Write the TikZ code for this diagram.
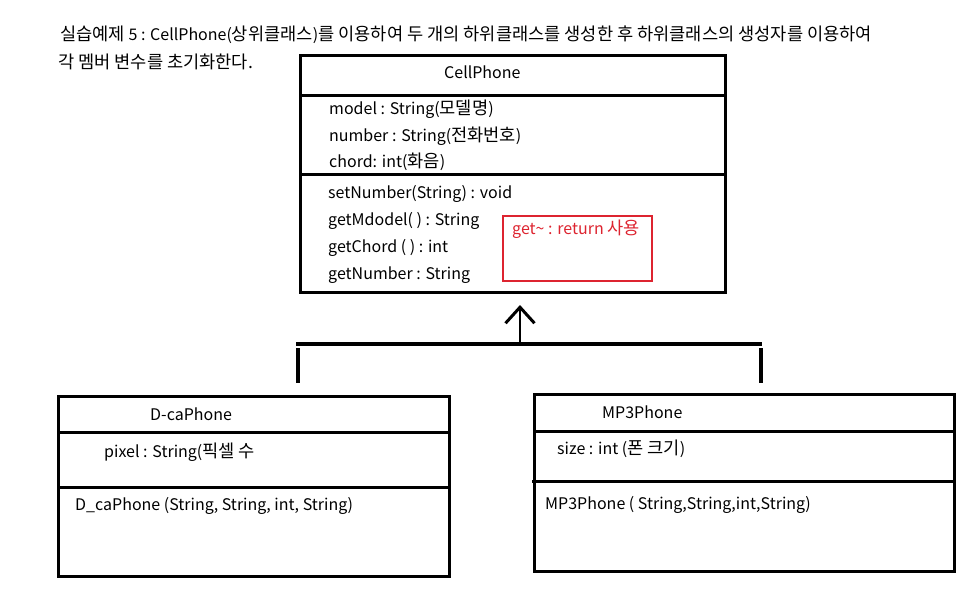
\documentclass[tikz,border=0pt]{standalone}
\usepackage{fontspec}
\setmainfont{Noto Sans CJK KR}
\newfontfamily\krf{Noto Sans CJK KR}[Scale=1.1]
\newcommand\hg[1]{{\krf #1}}
\usetikzlibrary{arrows.meta}
\definecolor{memo}{RGB}{221,36,48}
\tikzset{
  umlbox/.style={draw=black, line width=3pt, rectangle, inner sep=0pt},
  divider/.style={line width=3pt},
  txt/.style={anchor=west, inner sep=0pt, font=\fontsize{16}{18}\selectfont},
  memobox/.style={draw=memo, line width=2.5pt, rectangle, inner sep=0pt},
  bar/.style={line width=3.5pt},
}
\begin{document}
\begin{tikzpicture}[x=1pt,y=-1pt]
\useasboundingbox (0,0) rectangle (976,597);
% title
\node[txt] (t1) at (60,35) {\hg{실습예제} 5 : CellPhone(\hg{상위클래스})\hg{를 이용하여 두 개의 하위클래스를 생성한 후 하위클래스의 생성자를 이용하여}};
\node[txt] (t2) at (58,62) {\hg{각 멤버 변수를 초기화한다.}};
% CellPhone
\node[umlbox, minimum width=425pt, minimum height=237pt] (cell) at (512.5,173.5) {};
\draw[divider] (300,95) -- (725,95);
\draw[divider] (300,174) -- (725,174);
\node[txt] (cn) at (444,72) {CellPhone};
\node[txt] (a1) at (329,109) {model : String(\hg{모델명})};
\node[txt] (a2) at (329,136) {number : String(\hg{전화번호})};
\node[txt] (a3) at (329,162) {chord: int(\hg{화음})};
\node[txt] (m1) at (328,194) {setNumber(String) : void};
\node[txt] (m2) at (328,221) {getMdodel( ) : String};
\node[txt] (m3) at (328,248) {getChord ( ) : int};
\node[txt] (m4) at (328,275) {getNumber : String};
\node[memobox, minimum width=149pt, minimum height=65pt] (memo) at (577.5,248.5) {};
\node[txt, text=memo] (memot) at (512,229) {get\textasciitilde{} : return \hg{사용}};
% inheritance
\coordinate (jn) at (520,344);
\coordinate (tip) at (520,305);
\draw[line width=2pt, -{Straight Barb[length=16pt,width=29pt,line width=3pt]}] (jn) -- (tip);
\draw[bar] (296,344) -- (762,344);
\draw[bar] (298,348) -- (298,383);
\draw[bar] (761,348) -- (761,383);
% D-caPhone
\node[umlbox, minimum width=391pt, minimum height=180pt] (dca) at (253.5,486) {};
\draw[divider] (58,432) -- (449,432);
\draw[divider] (58,487) -- (449,487);
\node[txt] (dn) at (150,414) {D-caPhone};
\node[txt] (da) at (104,452) {pixel : String(\hg{픽셀 수}};
\node[txt] (dm) at (75,506) {D\_caPhone (String, String, int, String)};
% MP3Phone
\node[umlbox, minimum width=420pt, minimum height=177pt] (mp3) at (744,482.5) {};
\draw[divider] (534,431) -- (954,431);
\draw[divider] (532,481) -- (954,481);
\node[txt] (mn) at (602,412) {MP3Phone};
\node[txt] (ma) at (557,449) {size : int (\hg{폰 크기})};
\node[txt] (mm) at (545,505) {MP3Phone ( String,String,int,String)};
\end{tikzpicture}
\end{document}
